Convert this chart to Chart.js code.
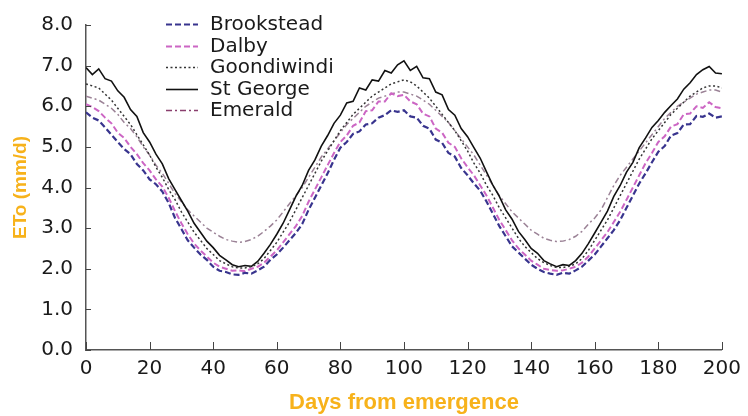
<!DOCTYPE html>
<html>
<head>
<meta charset="utf-8">
<script src="https://cdn.jsdelivr.net/npm/chart.js@4.4.1/dist/chart.umd.min.js"></script>
<style>
  body { margin: 0; background: #fff; }
  #wrap { width: 748px; height: 416px; position: relative; }
</style>
</head>
<body>
<div id="wrap"><canvas id="chart1"></canvas></div>
<script>
// days from emergence (every 2nd day)
const days = [
  0, 2, 4, 6, 8, 10, 12, 14, 16, 18,
  20, 22, 24, 26, 28, 30, 32, 34, 36, 38,
  40, 42, 44, 46, 48, 50, 52, 54, 56, 58,
  60, 62, 64, 66, 68, 70, 72, 74, 76, 78,
  80, 82, 84, 86, 88, 90, 92, 94, 96, 98,
  100, 102, 104, 106, 108, 110, 112, 114, 116, 118,
  120, 122, 124, 126, 128, 130, 132, 134, 136, 138,
  140, 142, 144, 146, 148, 150, 152, 154, 156, 158,
  160, 162, 164, 166, 168, 170, 172, 174, 176, 178,
  180, 182, 184, 186, 188, 190, 192, 194, 196, 198,
  200
];

const brookstead = [
  5.85, 5.72, 5.65, 5.48, 5.30, 5.12, 4.95, 4.82, 4.58, 4.42,
  4.20, 4.08, 3.90, 3.62, 3.25, 2.98, 2.70, 2.52, 2.35, 2.22,
  2.05, 1.95, 1.92, 1.86, 1.85, 1.90, 1.88, 1.96, 2.05, 2.22,
  2.35, 2.52, 2.70, 2.88, 3.10, 3.45, 3.75, 4.05, 4.35, 4.68,
  4.98, 5.12, 5.32, 5.38, 5.55, 5.58, 5.72, 5.78, 5.90, 5.86,
  5.90, 5.75, 5.72, 5.52, 5.45, 5.18, 5.10, 4.85, 4.76, 4.48,
  4.30, 4.10, 3.92, 3.65, 3.35, 3.05, 2.80, 2.55, 2.40, 2.25,
  2.10, 2.00, 1.92, 1.88, 1.85, 1.90, 1.88, 1.96, 2.05, 2.20,
  2.35, 2.55, 2.75, 2.95, 3.20, 3.50, 3.80, 4.10, 4.35, 4.62,
  4.88, 5.02, 5.28, 5.34, 5.55, 5.56, 5.76, 5.74, 5.82, 5.72,
  5.75
];

const dalby = [
  6.05, 5.98, 5.88, 5.72, 5.58, 5.35, 5.22, 5.00, 4.82, 4.60,
  4.42, 4.20, 4.02, 3.75, 3.42, 3.12, 2.85, 2.62, 2.45, 2.30,
  2.15, 2.05, 2.00, 1.95, 1.96, 1.94, 2.00, 2.05, 2.15, 2.30,
  2.45, 2.65, 2.85, 3.05, 3.30, 3.65, 3.95, 4.25, 4.55, 4.85,
  5.12, 5.28, 5.52, 5.60, 5.88, 5.90, 6.12, 6.12, 6.32, 6.25,
  6.28, 6.12, 6.05, 5.82, 5.75, 5.45, 5.35, 5.10, 5.00, 4.72,
  4.50, 4.30, 4.05, 3.80, 3.50, 3.20, 2.95, 2.70, 2.50, 2.35,
  2.20, 2.10, 2.00, 1.97, 1.95, 1.96, 2.00, 2.05, 2.15, 2.30,
  2.50, 2.70, 2.90, 3.15, 3.40, 3.70, 4.00, 4.30, 4.60, 4.85,
  5.12, 5.26, 5.50, 5.56, 5.80, 5.82, 6.00, 5.96, 6.10, 5.98,
  5.95
];

const goondiwindi = [
  6.55, 6.50, 6.45, 6.30, 6.15, 5.95, 5.75, 5.55, 5.30, 5.05,
  4.80, 4.50, 4.25, 3.95, 3.70, 3.40, 3.15, 2.90, 2.70, 2.50,
  2.35, 2.20, 2.12, 2.05, 2.02, 2.02, 2.05, 2.12, 2.25, 2.45,
  2.65, 2.90, 3.15, 3.45, 3.75, 4.05, 4.35, 4.65, 4.90, 5.15,
  5.40, 5.60, 5.80, 5.95, 6.10, 6.25, 6.35, 6.45, 6.55, 6.60,
  6.65, 6.60, 6.50, 6.35, 6.20, 6.00, 5.80, 5.60, 5.40, 5.15,
  4.90, 4.60, 4.35, 4.05, 3.80, 3.50, 3.25, 3.00, 2.75, 2.55,
  2.40, 2.25, 2.15, 2.08, 2.03, 2.03, 2.06, 2.12, 2.25, 2.45,
  2.70, 2.95, 3.20, 3.50, 3.80, 4.10, 4.40, 4.70, 4.95, 5.20,
  5.40, 5.60, 5.80, 5.95, 6.10, 6.25, 6.35, 6.45, 6.50, 6.50,
  6.45
];

const stGeorge = [
  6.95, 6.78, 6.92, 6.68, 6.62, 6.38, 6.22, 5.92, 5.75, 5.35,
  5.12, 4.82, 4.58, 4.22, 3.95, 3.68, 3.42, 3.12, 2.90, 2.68,
  2.52, 2.33, 2.22, 2.10, 2.05, 2.08, 2.06, 2.18, 2.38, 2.60,
  2.85, 3.12, 3.45, 3.78, 4.05, 4.42, 4.68, 5.02, 5.28, 5.58,
  5.78, 6.08, 6.12, 6.45, 6.40, 6.65, 6.62, 6.88, 6.82, 7.02,
  7.12, 6.88, 6.98, 6.70, 6.68, 6.35, 6.28, 5.92, 5.78, 5.45,
  5.25, 4.98, 4.72, 4.38, 4.05, 3.78, 3.45, 3.22, 2.92, 2.72,
  2.50, 2.38, 2.20, 2.12, 2.05, 2.10, 2.08, 2.20, 2.38, 2.62,
  2.88, 3.15, 3.42, 3.78, 4.05, 4.38, 4.62, 4.98, 5.22, 5.48,
  5.65, 5.85, 6.02, 6.18, 6.42, 6.58, 6.78, 6.90, 6.98, 6.82,
  6.80
];

const emerald = [
  6.25, 6.20, 6.15, 6.05, 5.95, 5.80, 5.60, 5.45, 5.25, 5.00,
  4.80, 4.55, 4.35, 4.10, 3.85, 3.65, 3.45, 3.30, 3.15, 3.00,
  2.90, 2.80, 2.72, 2.68, 2.65, 2.67, 2.72, 2.80, 2.92, 3.05,
  3.20, 3.40, 3.60, 3.80, 4.00, 4.25, 4.50, 4.75, 4.95, 5.15,
  5.35, 5.55, 5.70, 5.85, 6.00, 6.10, 6.20, 6.25, 6.30, 6.35,
  6.35, 6.30, 6.25, 6.15, 6.05, 5.90, 5.75, 5.60, 5.40, 5.20,
  5.00, 4.80, 4.55, 4.30, 4.05, 3.80, 3.60, 3.40, 3.25, 3.10,
  2.95, 2.85, 2.75, 2.70, 2.67, 2.68, 2.72, 2.80, 2.92, 3.10,
  3.25, 3.45, 3.75, 4.05, 4.30, 4.50, 4.70, 4.90, 5.10, 5.30,
  5.50, 5.70, 5.85, 6.00, 6.10, 6.20, 6.30, 6.35, 6.40, 6.40,
  6.35
];

const xTicks = [0, 20, 40, 60, 80, 100, 120, 140, 160, 180, 200];
const yTicks = [0, 1, 2, 3, 4, 5, 6, 7, 8];

const FONT = "'DejaVu Sans', sans-serif";
const TITLE_FONT = "'Liberation Sans', Arial, sans-serif";
const ORANGE = "#f7b21b";

function pts(vals) {
  return days.map(function (d, i) { return { x: d, y: vals[i] }; });
}

// small tick marks pointing into the plot
const innerTicks = {
  id: "innerTicks",
  afterDatasetsDraw(chart) {
    const { ctx, chartArea, scales } = chart;
    ctx.save();
    ctx.strokeStyle = "#444";
    ctx.lineWidth = 1;
    scales.x.ticks.forEach(function (t) {
      const px = Math.round(scales.x.getPixelForValue(t.value)) + 0.5;
      ctx.beginPath();
      ctx.moveTo(px, chartArea.bottom);
      ctx.lineTo(px, chartArea.bottom - 8);
      ctx.stroke();
    });
    scales.y.ticks.forEach(function (t) {
      const py = Math.round(scales.y.getPixelForValue(t.value)) + 0.5;
      ctx.beginPath();
      ctx.moveTo(chartArea.left, py);
      ctx.lineTo(chartArea.left + 5, py);
      ctx.stroke();
    });
    ctx.restore();
  }
};

// legend stacked inside the plot, top left
const stackedLegend = {
  id: "stackedLegend",
  afterDraw(chart) {
    const ctx = chart.ctx;
    ctx.save();
    ctx.font = "20px " + FONT;
    ctx.textBaseline = "middle";
    chart.data.datasets.forEach(function (ds, i) {
      const y = Math.round(24 + i * 21.5) + 0.5;
      ctx.strokeStyle = ds.legendColor || ds.borderColor;
      ctx.lineWidth = ds.borderWidth;
      ctx.setLineDash(ds.borderDash || []);
      ctx.beginPath();
      ctx.moveTo(166, y);
      ctx.lineTo(198, y);
      ctx.stroke();
      ctx.setLineDash([]);
      ctx.fillStyle = "#1a1a1a";
      ctx.fillText(ds.label, 210, y);
    });
    ctx.restore();
  }
};

var myChart = document.getElementById("chart1").getContext("2d");
var chart = new Chart(myChart, {
  type: "line",
  data: {
    datasets: [
      { label: "Brookstead", data: pts(brookstead), borderColor: "#38348e", borderWidth: 2.2, borderDash: [6, 3] },
      { label: "Dalby", data: pts(dalby), borderColor: "#cc66c4", borderWidth: 2, borderDash: [6, 3] },
      { label: "Goondiwindi", data: pts(goondiwindi), borderColor: "#333333", borderWidth: 1.5, borderDash: [2, 2.5] },
      { label: "St George", data: pts(stGeorge), borderColor: "#111111", borderWidth: 1.6, borderDash: [] },
      { label: "Emerald", data: pts(emerald), borderColor: "#9b8296", legendColor: "#8a3f6e", borderWidth: 1.5, borderDash: [6, 3, 2, 3] }
    ]
  },
  options: {
    responsive: true,
    maintainAspectRatio: false,
    animation: false,
    layout: { padding: { top: 19, right: 18, left: 0, bottom: 0 } },
    elements: { point: { radius: 0 }, line: { tension: 0, fill: false } },
    plugins: { legend: { display: false }, tooltip: { enabled: false } },
    scales: {
      x: {
        type: "linear",
        min: 0,
        max: 200,
        afterBuildTicks: function (scale) { scale.ticks = xTicks.map(function (v) { return { value: v }; }); },
        afterFit: function (scale) { scale.height = 66; },
        grid: { display: false, drawTicks: false },
        border: { display: true, color: "#555", width: 1.5 },
        ticks: { color: "#1a1a1a", padding: 7, maxRotation: 0, font: { family: FONT, size: 20 } },
        title: {
          display: true,
          text: "Days from emergence",
          color: ORANGE,
          font: { family: TITLE_FONT, size: 22, weight: "bold" },
          padding: { top: 0, bottom: 0 }
        }
      },
      y: {
        min: 0,
        max: 8,
        afterBuildTicks: function (scale) { scale.ticks = yTicks.map(function (v) { return { value: v }; }); },
        afterFit: function (scale) { scale.width = 86; },
        grid: { display: false, drawTicks: false },
        border: { display: true, color: "#555", width: 1.5 },
        ticks: {
          color: "#1a1a1a",
          padding: 13,
          font: { family: FONT, size: 20 },
          callback: function (v) { return Number(v).toFixed(1); }
        },
        title: {
          display: true,
          text: "ETo (mm/d)",
          color: ORANGE,
          font: { family: TITLE_FONT, size: 19, weight: "bold" },
          padding: { top: 9, bottom: 0 }
        }
      }
    }
  },
  plugins: [innerTicks, stackedLegend]
});
</script>
</body>
</html>
